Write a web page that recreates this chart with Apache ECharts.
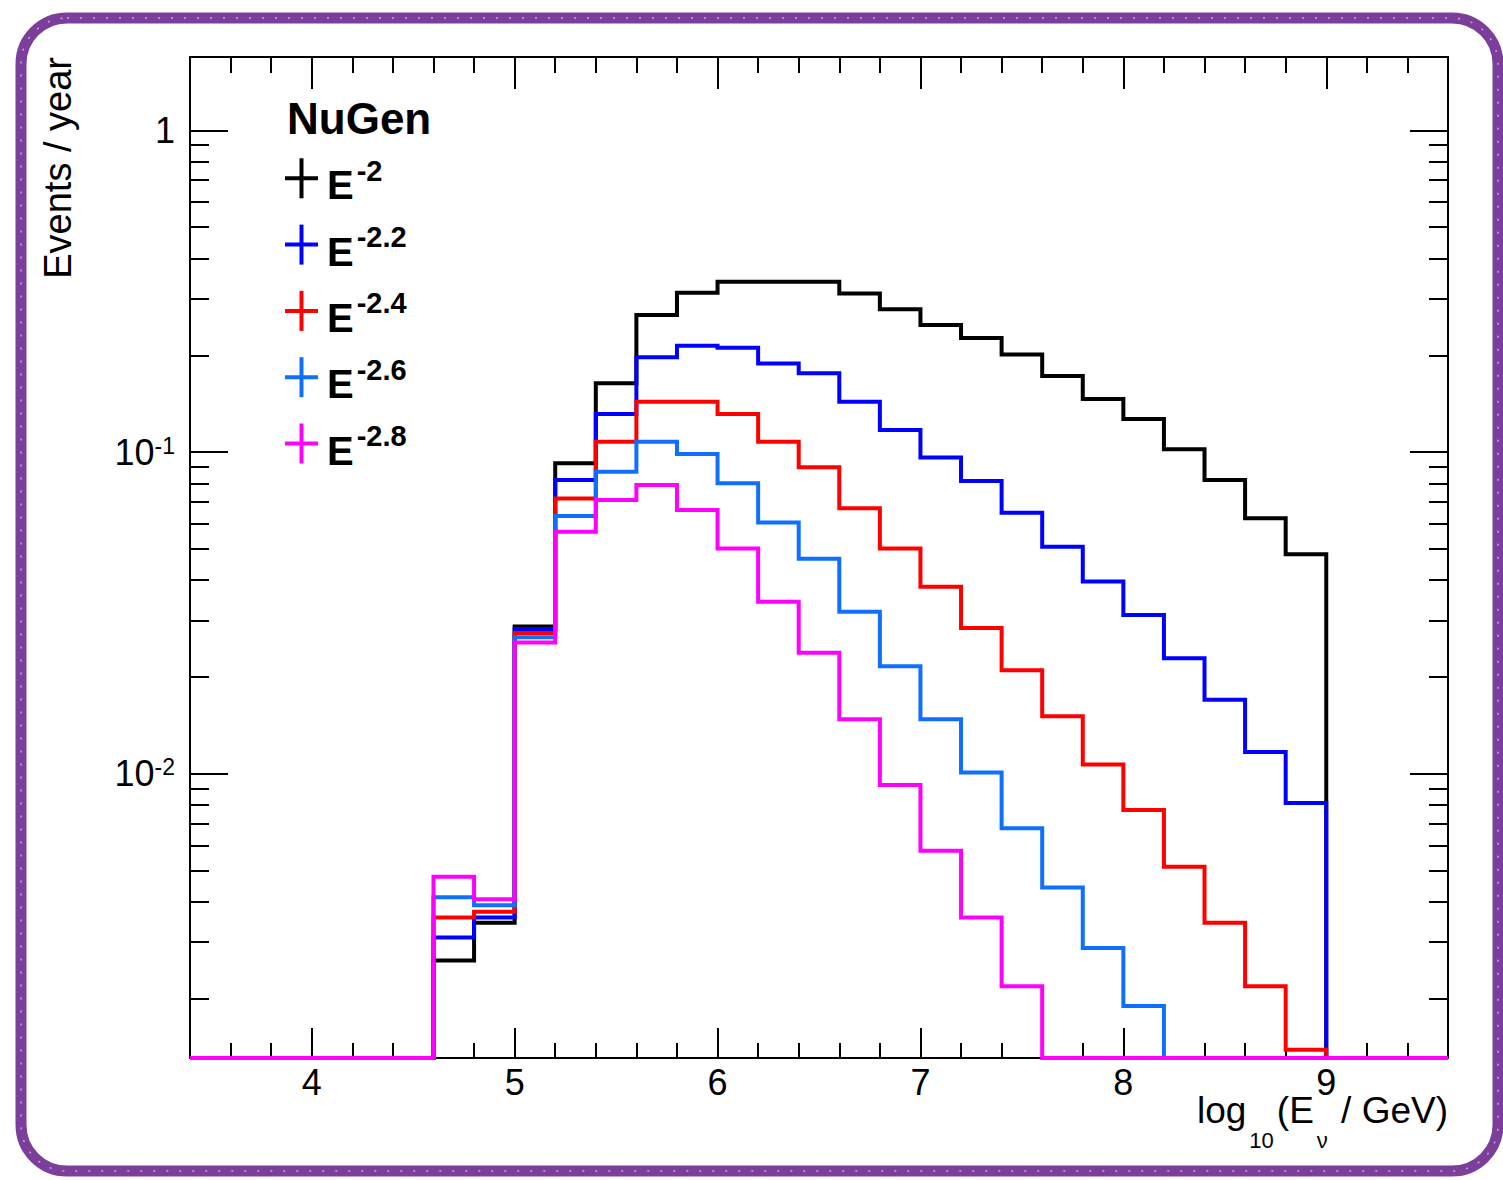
<!DOCTYPE html>
<html>
<head>
<meta charset="utf-8">
<script src="https://cdn.jsdelivr.net/npm/echarts@6/dist/echarts.min.js"></script>
<style>
html,body{margin:0;padding:0;background:#ffffff;}
#main{width:1503px;height:1180px;}
</style>
</head>
<body>
<div id="main"></div>
<script>
// ---------------- data ----------------
const binLow = [4.6,4.8,5.0,5.2,5.4,5.6,5.8,6.0,6.2,6.4,6.6,6.8,7.0,7.2,7.4,7.6,7.8,8.0,8.2,8.4,8.6,8.8];
const binWidth = 0.2;
const seriesNames = ['E^-2','E^-2.2','E^-2.4','E^-2.6','E^-2.8'];
const spectralIndex = ['-2','-2.2','-2.4','-2.6','-2.8'];
const valuesE20 = [0.00263,0.00345,0.0287,0.0923,0.1636,0.2667,0.3128,0.3384,0.3384,0.3384,0.3114,0.2778,0.2483,0.2262,0.2010,0.1723,0.1462,0.1267,0.1020,0.0819,0.0623,0.0482];
const valuesE22 = [0.00310,0.00358,0.0282,0.0819,0.1313,0.1971,0.2141,0.2111,0.1887,0.1758,0.1434,0.1171,0.0963,0.0813,0.0648,0.0508,0.0396,0.0312,0.0229,0.0170,0.0117,0.00812];
const valuesE24 = [0.00358,0.00373,0.0274,0.0718,0.1077,0.1434,0.1434,0.1313,0.1077,0.0897,0.0669,0.0502,0.0382,0.0284,0.0210,0.0151,0.0107,0.00772,0.00515,0.00345,0.00219,0.00139];
const valuesE26 = [0.00414,0.00391,0.0266,0.0633,0.0869,0.1077,0.0987,0.0800,0.0604,0.0466,0.0319,0.0216,0.0148,0.0101,0.00678,0.00444,0.00288,0.00190,0,0,0,0];
const valuesE28 = [0.00479,0.00408,0.0256,0.0566,0.0710,0.0790,0.0661,0.0502,0.0343,0.0238,0.0148,0.00924,0.00577,0.00358,0.00219,0,0,0,0,0,0,0];
const xTickValues = [4,5,6,7,8,9];
const xTickLabels = ['4','5','6','7','8','9'];
const yTickValues = [0.01,0.1,1];
const yTickLabels = ['{b|10}{s|-2}','{b|10}{s|-1}','{b|1}'];
const xTitle = '{m|log}{s|10}{m|(E}{s|ν}{m| / GeV)}';
const yTitle = 'Events / year';
const legendTitle = 'NuGen';

// ---------------- style ----------------
const X_MIN = 3.4, X_MAX = 9.6;
const Y_MIN = 0.00131, Y_MAX = 1.69;
const FF = '"Liberation Sans", Arial, Helvetica, sans-serif';
const colors = ['#000000','#0000ff','#ff0000','#0f6fff','#ff00ff'];
const allValues = [valuesE20, valuesE22, valuesE24, valuesE26, valuesE28];

// minor tick positions
const xMinor = [];
for (let i = 0; i <= 31; i++) {
  const v = Math.round((X_MIN + i * 0.2) * 10) / 10;
  if (v > X_MIN && v < X_MAX && Math.abs(v - Math.round(v)) > 1e-6) xMinor.push(v);
}
const yMinor = [];
for (const k of [-3,-2,-1]) {
  for (let m = 2; m <= 9; m++) {
    const v = parseFloat((m * Math.pow(10, k)).toPrecision(3));
    if (v > Y_MIN && v < Y_MAX) yMinor.push(v);
  }
}

function histPoints(vals) {
  const pts = [[X_MIN, Y_MIN], [binLow[0], Y_MIN]];
  for (let i = 0; i < binLow.length; i++) {
    const v = vals[i] > 0 ? vals[i] : Y_MIN;
    const lo = binLow[i];
    const hi = Math.round((lo + binWidth) * 10) / 10;
    pts.push([lo, v]);
    pts.push([hi, v]);
  }
  const last = Math.round((binLow[binLow.length - 1] + binWidth) * 10) / 10;
  pts.push([last, Y_MIN]);
  pts.push([X_MAX, Y_MIN]);
  return pts;
}

const tickLine = {color:'#000', width:2};
function xAx(pos, len, values, withLine, withLabel) {
  return {
    type:'value', min:X_MIN, max:X_MAX, position:pos, gridIndex:0,
    splitLine:{show:false},
    axisLine:{show:withLine, onZero:false, lineStyle:{color:'#000', width:2}},
    axisTick:{show:true, inside:true, length:len, customValues:values, lineStyle:tickLine},
    axisLabel: withLabel ? {
      show:true, customValues:xTickValues, margin:6, color:'#000', fontSize:36, fontFamily:FF,
      formatter:(v)=>{ const i = xTickValues.indexOf(v); return i >= 0 ? xTickLabels[i] : ''; }
    } : {show:false}
  };
}
function yAx(pos, len, values, withLine, withLabel) {
  return {
    type:'log', logBase:10, min:Y_MIN, max:Y_MAX, position:pos, gridIndex:0,
    splitLine:{show:false},
    axisLine:{show:withLine, onZero:false, lineStyle:{color:'#000', width:2}},
    axisTick:{show:true, inside:true, length:len, customValues:values, lineStyle:tickLine},
    axisLabel: withLabel ? {
      show:true, customValues:yTickValues, margin:15, color:'#000', fontFamily:FF,
      formatter:(v)=>{
        let best = 0, d = 1e9;
        yTickValues.forEach((t, i) => { const dd = Math.abs(Math.log10(t) - Math.log10(v)); if (dd < d) { d = dd; best = i; } });
        return yTickLabels[best];
      },
      rich:{
        b:{fontSize:36, lineHeight:36, verticalAlign:'top', fontFamily:FF, color:'#000'},
        s:{fontSize:23, lineHeight:23, verticalAlign:'top', fontFamily:FF, color:'#000'}
      }
    } : {show:false}
  };
}

const series = allValues.map((vals, i) => ({
  name: seriesNames[i],
  type:'line',
  xAxisIndex:0, yAxisIndex:0,
  data: histPoints(vals),
  showSymbol:false, symbol:'none',
  clip:false,
  z: 10 + i,
  lineStyle:{color:colors[i], width:4, join:'miter', cap:'butt'},
  emphasis:{disabled:true},
  animation:false
}));

// frame decoration + legend + titles
const graphics = [];
graphics.push({type:'rect', silent:true, z:0,
  shape:{x:21, y:18, width:1477, height:1153, r:46},
  style:{fill:'none', stroke:'#7b3f9b', lineWidth:11}});
graphics.push({type:'rect', silent:true, z:1,
  shape:{x:21, y:18, width:1477, height:1153, r:46},
  style:{fill:'none', stroke:'rgba(255,255,255,0.55)', lineWidth:1.5, lineDash:[2,11]}});
graphics.push({type:'text', x:287, y:118, z:50,
  style:{text:legendTitle, fontSize:44, fontWeight:'bold', fontFamily:FF, fill:'#000', verticalAlign:'middle', align:'left'}});
for (let i = 0; i < seriesNames.length; i++) {
  const cy = 178.3 + 66.3 * i;
  graphics.push({type:'line', z:50, shape:{x1:285, y1:cy, x2:318, y2:cy}, style:{stroke:colors[i], lineWidth:4}});
  graphics.push({type:'line', z:50, shape:{x1:301.5, y1:cy-20, x2:301.5, y2:cy+20}, style:{stroke:colors[i], lineWidth:4}});
  graphics.push({type:'text', x:327, y:cy-27, z:50,
    style:{text:'{e|E}{s|' + spectralIndex[i] + '}', align:'left', verticalAlign:'top',
      rich:{
        e:{fontSize:40, fontWeight:'bold', lineHeight:54, verticalAlign:'bottom', fontFamily:FF, fill:'#000'},
        s:{fontSize:29, fontWeight:'bold', lineHeight:29, padding:[5,0,0,3], verticalAlign:'top', fontFamily:FF, fill:'#000'}
      }}});
}
graphics.push({type:'text', x:58, y:57, rotation:Math.PI/2, z:50,
  style:{text:yTitle, fontSize:38, fontFamily:FF, fill:'#000', align:'right', verticalAlign:'middle'}});
graphics.push({type:'text', x:1448, y:1092, z:50,
  style:{text:xTitle, align:'right', verticalAlign:'top',
    rich:{
      m:{fontSize:37, lineHeight:37, verticalAlign:'top', fontFamily:FF, fill:'#000'},
      s:{fontSize:22, lineHeight:22, padding:[37,3,0,3], verticalAlign:'top', fontFamily:FF, fill:'#000'}
    }}});

const chart = echarts.init(document.getElementById('main'), null, {renderer:'svg', width:1503, height:1180});
chart.setOption({
  animation:false,
  backgroundColor:'#ffffff',
  grid:{left:190, top:57, width:1258, height:1001, containLabel:false},
  xAxis:[
    xAx('bottom', 30, xTickValues, true, true),
    xAx('bottom', 15, xMinor, false, false),
    xAx('top', 32, xTickValues, true, false),
    xAx('top', 16, xMinor, false, false)
  ],
  yAxis:[
    yAx('left', 38, yTickValues, true, true),
    yAx('left', 19, yMinor, false, false),
    yAx('right', 38, yTickValues, true, false),
    yAx('right', 19, yMinor, false, false)
  ],
  series: series,
  graphic: graphics
});
</script>
</body>
</html>
